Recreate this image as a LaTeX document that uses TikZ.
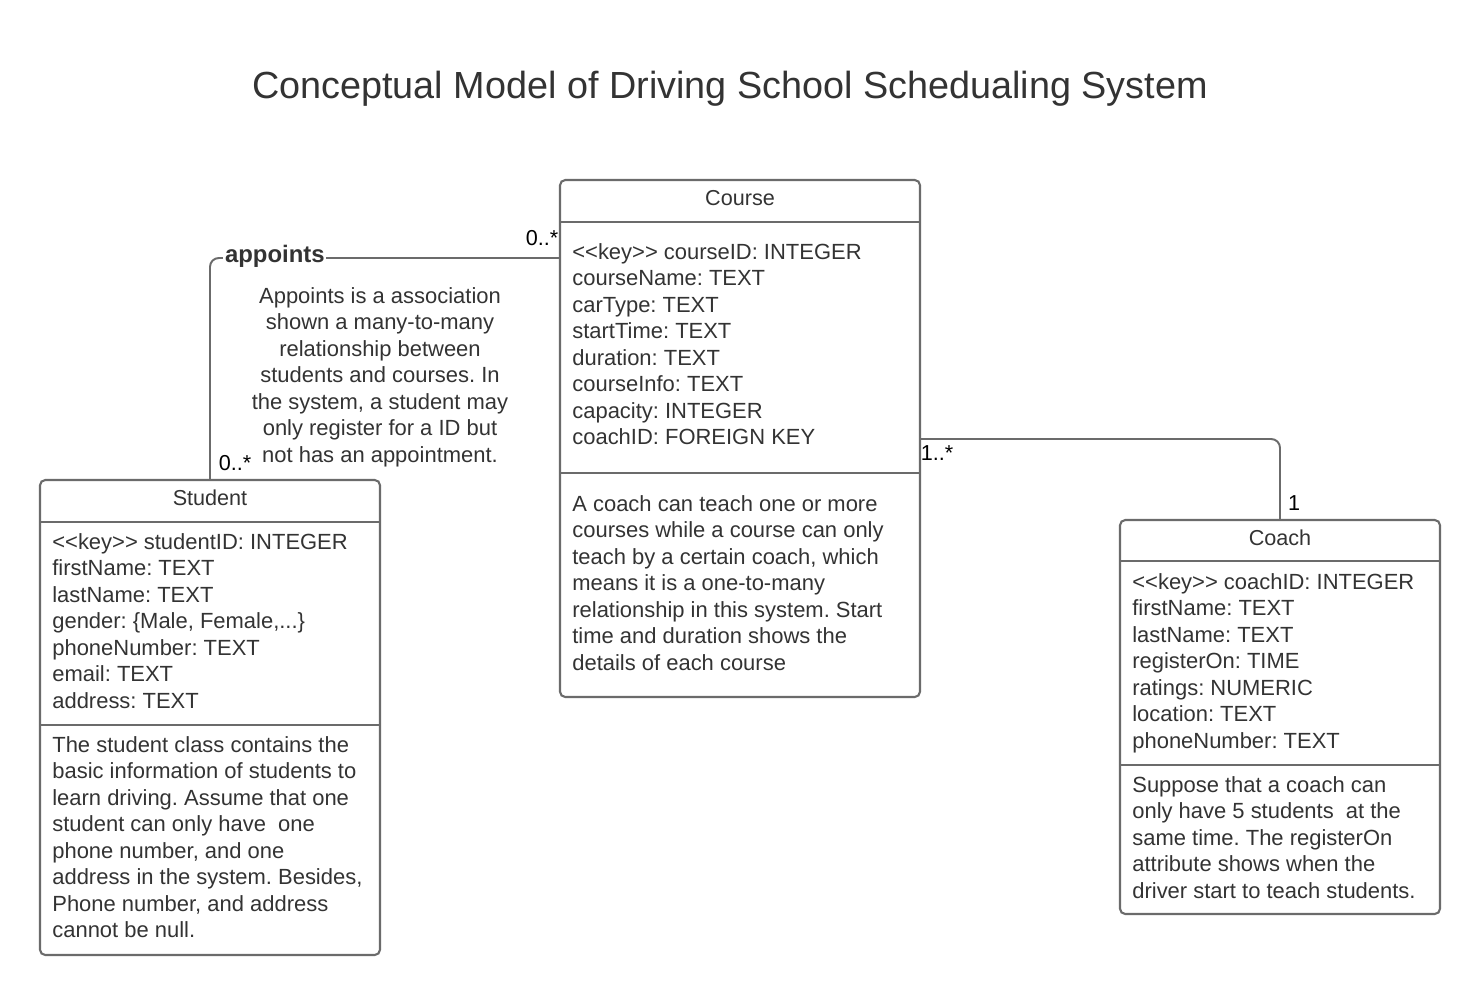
\documentclass[tikz,border=0pt]{standalone}
\usepackage{fontspec}
\setmainfont{Liberation Sans}[Ligatures=TeXOff]
\usetikzlibrary{fit}
\definecolor{linegray}{HTML}{6B6B6B}
\definecolor{textgray}{HTML}{333333}
\newcommand{\keytag}{<\kern0pt<key>\kern0pt>}
\frenchspacing
\begin{document}
\begin{tikzpicture}[x=0.02cm, y=-0.02cm,
  every node/.style={text=textgray},
  classbox/.style={draw=linegray, line width=1.2pt, rounded corners=3pt, inner sep=0pt},
  sepline/.style={draw=linegray, line width=1.2pt},
  assoc/.style={draw=linegray, line width=1.1pt, rounded corners=5pt},
  body/.style={anchor=north west, align=left, inner sep=0pt, font=\fontsize{12.5}{15.08}\selectfont},
  head/.style={inner sep=0pt, font=\fontsize{12.3}{15}\selectfont},
  mult/.style={inner sep=0pt, font=\fontsize{12.3}{15}\selectfont, text=black}]
\useasboundingbox (0,0) rectangle (1480,995);

\node[inner sep=0pt, font=\fontsize{21.5}{26}\selectfont] (title) at (730,89) {Conceptual Model of Driving School Schedualing System};

% class boxes
\node[classbox, fit={(560,180) (920,697)}] (course) {};
\node[classbox, fit={(40,480) (380,955)}] (student) {};
\node[classbox, fit={(1120,520) (1440,914)}] (coach) {};

\draw[sepline] (560,222) -- (920,222);
\draw[sepline] (560,473) -- (920,473);
\draw[sepline] (40,522) -- (380,522);
\draw[sepline] (40,725) -- (380,725);
\draw[sepline] (1120,561) -- (1440,561);
\draw[sepline] (1120,765) -- (1440,765);

\node[head] (courseHead) at (740,198) {Course};
\node[head] (studentHead) at (210,498) {Student};
\node[head] (coachHead) at (1280,538) {Coach};

\node[body] (courseAttr) at (572,243) {\keytag{} courseID: INTEGER\\courseName: TEXT\\carType: TEXT\\startTime: TEXT\\duration: TEXT\\courseInfo: TEXT\\capacity: INTEGER\\coachID: FOREIGN KEY};
\node[body] (courseNote) at (572,495) {A coach can teach one or more\\courses while a course can only\\teach by a certain coach, which\\means it is a one-to-many\\relationship in this system. Start\\time and duration shows the\\details of each course};

\node[body] (studentAttr) at (52,533) {\keytag{} studentID: INTEGER\\firstName: TEXT\\lastName: TEXT\\gender: \{Male, Female,...\}\\phoneNumber: TEXT\\email: TEXT\\address: TEXT};
\node[body] (studentNote) at (52,736) {The student class contains the\\basic information of students to\\learn driving. Assume that one\\student can only have \ one\\phone number, and one\\address in the system. Besides,\\Phone number, and address\\cannot be null.};

\node[body] (coachAttr) at (1132,573) {\keytag{} coachID: INTEGER\\firstName: TEXT\\lastName: TEXT\\registerOn: TIME\\ratings: NUMERIC\\location: TEXT\\phoneNumber: TEXT};
\node[body] (coachNote) at (1132,776) {Suppose that a coach can\\only have 5 students \ at the\\same time. The registerOn\\attribute shows when the\\driver start to teach students.};

% associations
\draw[assoc] (course.west |- 0,258) -| (student.north);
\draw[assoc] (course.east |- 0,439) -| (coach.north);

\node[inner sep=1pt, fill=white, anchor=west, font=\bfseries\fontsize{13.6}{16}\selectfont] (appoints) at (223,256) {appoints};
\node[body, anchor=north, align=center] (appointsNote) at (380,287) {Appoints is a association\\shown a many-to-many\\relationship between\\students and courses. In\\the system, a student may\\only register for a ID but\\not has an appointment.};

\node[mult] (m1) at (542,238) {0..*};
\node[mult] (m2) at (235,463) {0..*};
\node[mult] (m3) at (937,453) {1..*};
\node[mult] (m4) at (1294,503) {1};
\end{tikzpicture}
\end{document}
